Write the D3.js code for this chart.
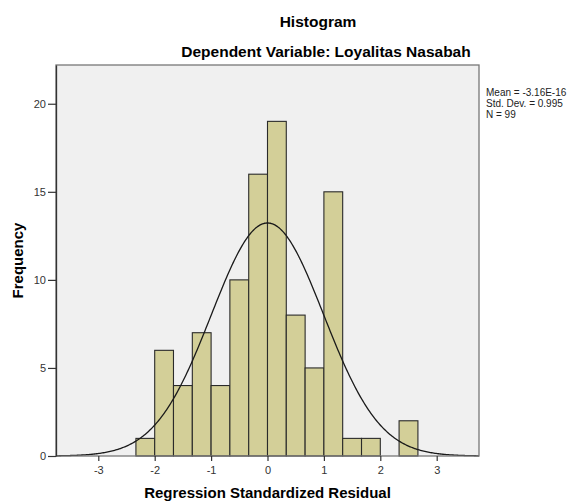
<!DOCTYPE html>
<html>
<head>
<meta charset="utf-8">
<script src="https://cdn.jsdelivr.net/npm/d3@7"></script>
<style>
  body { margin: 0; background: #fff; }
  text { font-family: "Liberation Sans", Arial, sans-serif; }
</style>
</head>
<body>
<script>
// bins of the residual histogram (width 1/3)
const binStart = [-2.333, -2, -1.667, -1.333, -1, -0.667, -0.333, 0, 0.333, 0.667, 1, 1.333, 1.667, 2, 2.333];
const binEnd   = [-2, -1.667, -1.333, -1, -0.667, -0.333, 0, 0.333, 0.667, 1, 1.333, 1.667, 2, 2.333, 2.667];
const counts   = [1, 6, 4, 7, 4, 10, 16, 19, 8, 5, 15, 1, 1, 0, 2];
const xTicks = [-3, -2, -1, 0, 1, 2, 3];
const yTicks = [0, 5, 10, 15, 20];
const mean = -3.16e-16, sd = 0.995, n = 99, binW = 1 / 3;
const statLines = ["Mean = -3.16E-16", "Std. Dev. = 0.995", "N = 99"];

const width = 574, height = 501;
const plotL = 56, plotR = 479, plotT = 65, plotB = 456;

const svg = d3.select("body").append("svg")
    .attr("width", width).attr("height", height);

const x = d3.scaleLinear().domain([-3.75, 3.75]).range([plotL, plotR]);
const y = d3.scaleLinear().domain([0, 22.2]).range([plotB, plotT]);

// plot background
svg.append("rect")
    .attr("x", plotL).attr("y", plotT)
    .attr("width", plotR - plotL).attr("height", plotB - plotT)
    .attr("fill", "#f0f0f0");

// bars
const binData = counts.map((c, i) => ({c: c, x0: binStart[i], x1: binEnd[i]}))
    .filter(d => d.c > 0);
svg.append("g").selectAll("rect")
    .data(binData)
    .join("rect")
    .attr("x", d => x(d.x0))
    .attr("y", d => y(d.c))
    .attr("width", d => x(d.x1) - x(d.x0))
    .attr("height", d => y(0) - y(d.c))
    .attr("fill", "#d3cf98")
    .attr("stroke", "#2a2a2a")
    .attr("stroke-width", 1.1);

// normal curve
const pts = d3.range(-3.75, 3.7501, 0.02).map(v =>
  [v, n * binW * Math.exp(-0.5 * ((v - mean) / sd) ** 2) / (sd * Math.sqrt(2 * Math.PI))]);
svg.append("path")
    .datum(pts)
    .attr("fill", "none")
    .attr("stroke", "#1a1a1a")
    .attr("stroke-width", 1.3)
    .attr("d", d3.line().x(d => x(d[0])).y(d => y(d[1])));

// frame
svg.append("rect")
    .attr("x", plotL).attr("y", plotT)
    .attr("width", plotR - plotL).attr("height", plotB - plotT)
    .attr("fill", "none")
    .attr("stroke", "#777")
    .attr("stroke-width", 1.3);

// axes
const yAxis = svg.append("g")
    .attr("transform", `translate(${plotL},0)`)
    .call(d3.axisLeft(y).tickValues(yTicks).tickSize(8).tickSizeOuter(0).tickPadding(2));
const xAxis = svg.append("g")
    .attr("transform", `translate(0,${plotB})`)
    .call(d3.axisBottom(x).tickValues(xTicks).tickSize(5).tickSizeOuter(0).tickPadding(5)
      .tickFormat(d => d < 0 ? "-" + Math.abs(d) : d));
[yAxis, xAxis].forEach(a => {
  a.select(".domain").attr("stroke", "#333").attr("stroke-width", 1.3);
  a.selectAll(".tick line").attr("stroke", "#333").attr("stroke-width", 1.2);
  a.selectAll(".tick text").attr("fill", "#333").style("font-size", "11px")
    .style("font-family", "Liberation Sans, Arial, sans-serif");
});
xAxis.select(".domain").remove();

// titles
svg.append("text").attr("x", 318).attr("y", 26.5)
    .attr("text-anchor", "middle").attr("font-weight", "bold").attr("font-size", 15.5)
    .text("Histogram");
svg.append("text").attr("x", 326).attr("y", 57)
    .attr("text-anchor", "middle").attr("font-weight", "bold").attr("font-size", 15.5)
    .text("Dependent Variable: Loyalitas Nasabah");
svg.append("text").attr("x", (plotL + plotR) / 2).attr("y", 498)
    .attr("text-anchor", "middle").attr("font-weight", "bold").attr("font-size", 15)
    .text("Regression Standardized Residual");
svg.append("text")
    .attr("transform", `translate(23,${(plotT + plotB) / 2}) rotate(-90)`)
    .attr("text-anchor", "middle").attr("font-weight", "bold").attr("font-size", 15)
    .text("Frequency");

// stats
svg.append("g").selectAll("text")
    .data(statLines)
    .join("text")
    .attr("x", 486)
    .attr("y", (d, i) => 96 + i * 11)
    .attr("font-size", 10)
    .attr("fill", "#222")
    .text(d => d);
</script>
</body>
</html>
